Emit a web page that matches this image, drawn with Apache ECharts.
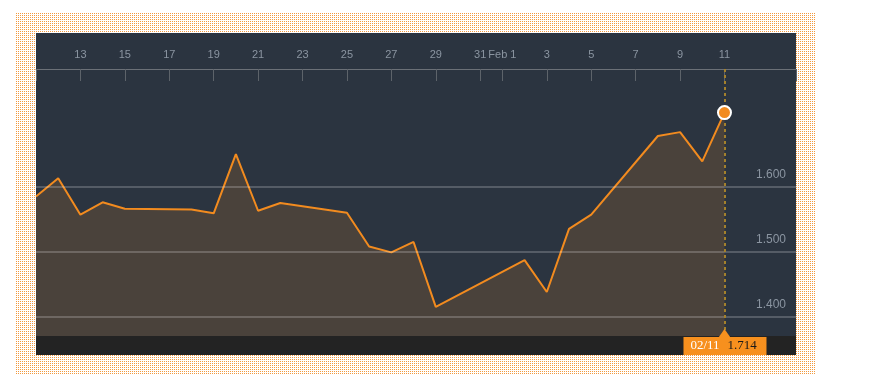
<!DOCTYPE html>
<html>
<head>
<meta charset="utf-8">
<script src="https://cdn.jsdelivr.net/npm/echarts@6/dist/echarts.min.js"></script>
<style>
  html, body { margin:0; padding:0; background:#ffffff; }
  #wrap { position:relative; width:893px; height:392px; overflow:hidden; }
  #pat { position:absolute; left:16px; top:13px; }
  #panel { position:absolute; left:36px; top:33px; width:760px; height:322px; background:#2b3440; }
  #bar { position:absolute; left:36px; top:336px; width:760px; height:19px; background:#232323; }
  #chart { position:absolute; left:0; top:0; width:893px; height:392px; }
</style>
</head>
<body>
<div id="wrap">
  <canvas id="pat" width="800" height="361"></canvas>
  <div id="panel"></div>
  <div id="bar"></div>
  <div id="chart"></div>
</div>
<script>
// ---- data ----
const dates = ['2016-01-11','2016-01-12','2016-01-13','2016-01-14','2016-01-15','2016-01-18','2016-01-19','2016-01-20','2016-01-21','2016-01-22','2016-01-25','2016-01-26','2016-01-27','2016-01-28','2016-01-29','2016-02-02','2016-02-03','2016-02-04','2016-02-05','2016-02-08','2016-02-09','2016-02-10','2016-02-11'];
const values = [1.585,1.613,1.557,1.576,1.566,1.565,1.559,1.650,1.563,1.575,1.560,1.508,1.499,1.515,1.415,1.487,1.438,1.535,1.557,1.678,1.684,1.639,1.714];
const tickDates = ['2016-01-13','2016-01-15','2016-01-17','2016-01-19','2016-01-21','2016-01-23','2016-01-25','2016-01-27','2016-01-29','2016-01-31','2016-02-01','2016-02-03','2016-02-05','2016-02-07','2016-02-09','2016-02-11'];
const tickLabels = ['13','15','17','19','21','23','25','27','29','31','Feb 1','3','5','7','9','11'];
const gridValues = [1.4, 1.5, 1.6];
const startDate = '2016-01-11';
const spanDays = 34.22;
const yMin = 1.3703, yMax = 1.7811;

// ---- background dotted pattern ----
(function(){
  const c = document.getElementById('pat');
  const ctx = c.getContext('2d');
  ctx.fillStyle = '#ffffff';
  ctx.fillRect(0,0,c.width,c.height);
  ctx.fillStyle = '#f29a3e';
  for (let y = 0; y < c.height; y += 2) {
    for (let x = 0; x < c.width; x += 2) {
      ctx.fillRect(x, y, 1, 1);
    }
  }
})();

const DAY = 86400000;
function dayOff(s){ return (Date.parse(s + 'T00:00:00Z') - Date.parse(startDate + 'T00:00:00Z')) / DAY; }
const pts = dates.map((d,i) => [dayOff(d), values[i]]);
const tickVals = tickDates.map(dayOff);
const labelMap = {};
tickVals.forEach((v,i) => { labelMap[v] = tickLabels[i]; });
const lastIdx = dates.length - 1;
const lastPt = pts[lastIdx];

const chart = echarts.init(document.getElementById('chart'), null, {renderer:'canvas'});
chart.setOption({
  animation: false,
  backgroundColor: 'transparent',
  grid: { left: 36, right: 97, top: 69, bottom: 56, containLabel: false },
  xAxis: {
    type: 'value', position: 'top', min: 0, max: spanDays,
    axisLine: { show: true, onZero: false, lineStyle: { color: '#6b7077', width: 1 } },
    axisTick: { show: true, inside: true, length: 12, customValues: [0].concat(tickVals).concat([spanDays]),
      lineStyle: { color: '#5d636a', width: 1 } },
    axisLabel: { customValues: tickVals, formatter: v => labelMap[v] || '', color: '#8b95a1',
      fontSize: 11, fontFamily: 'Liberation Sans, Arial, sans-serif', margin: 9 },
    splitLine: { show: false }
  },
  yAxis: {
    type: 'value', position: 'right', min: yMin, max: yMax, z: 5,
    axisLine: { show: false },
    axisTick: { show: false, customValues: gridValues },
    axisLabel: { inside: true, customValues: gridValues, formatter: v => v.toFixed(3),
      color: '#8b95a1', fontSize: 12, fontFamily: 'Liberation Sans, Arial, sans-serif',
      margin: 10, verticalAlign: 'bottom', padding: [0,0,6,0] },
    splitLine: { show: true, lineStyle: { color: 'rgba(255,255,255,0.2)', width: 2 } }
  },
  series: [
    {
      type: 'line', data: pts, symbol: 'none', z: 2,
      lineStyle: { color: '#f28b1f', width: 2 },
      areaStyle: { color: '#4a423b', opacity: 1 },
      markLine: { silent: true, symbol: 'none', label: { show: false },
        lineStyle: { color: '#a3802c', type: [3,3], width: 2 },
        data: [{ xAxis: lastPt[0] }] }
    },
    {
      type: 'scatter', data: [lastPt], symbol: 'circle', symbolSize: 13, z: 6,
      itemStyle: { color: '#f28b1f', borderColor: '#ffffff', borderWidth: 2, opacity: 1 }
    }
  ]
});

// ---- bottom value tag ----
const px = chart.convertToPixel({xAxisIndex:0}, lastPt[0]);
const py = chart.convertToPixel({yAxisIndex:0}, yMin);
const md = dates[lastIdx].slice(5).split('-');
const dateTxt = md[0] + '/' + md[1];
const valTxt = values[lastIdx].toFixed(3);
chart.setOption({
  graphic: [
    { type: 'rect', z: 20, shape: { x: px - 41, y: py + 1, width: 83, height: 18 }, style: { fill: '#f7901e' } },
    { type: 'polygon', z: 20, shape: { points: [[px - 6, py + 1.5], [px, py - 7], [px + 6, py + 1.5]] }, style: { fill: '#f7901e' } },
    { type: 'text', z: 21, x: px - 34, y: py + 10, style: { text: dateTxt, fill: '#ffffff', font: '13px "Liberation Serif", "Times New Roman", serif', verticalAlign: 'middle', align: 'left' } },
    { type: 'text', z: 21, x: px + 3, y: py + 10, style: { text: valTxt, fill: '#1a1a1a', font: '13px "Liberation Serif", "Times New Roman", serif', verticalAlign: 'middle', align: 'left' } }
  ]
});
</script>
</body>
</html>
